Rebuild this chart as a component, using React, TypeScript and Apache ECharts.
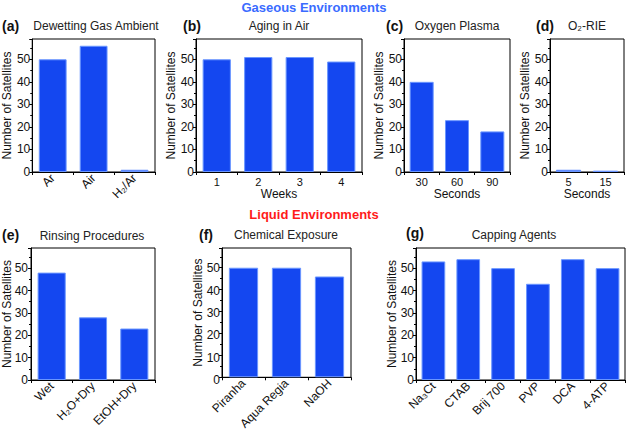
import React, { useEffect, useRef } from "react";
import * as echarts from "echarts";

const aCats = ["Ar", "Air", "H₂/Ar"];
const aVals = [50, 56, 1];
const bCats = ["1", "2", "3", "4"];
const bVals = [50, 51, 51, 49];
const cCats = ["30", "60", "90"];
const cVals = [40, 23, 18];
const dCats = ["5", "15"];
const dVals = [1, 0.6];
const eCats = ["Wet", "H₂O+Dry", "EtOH+Dry"];
const eVals = [48, 28, 23];
const fCats = ["Piranha", "Aqua Regia", "NaOH"];
const fVals = [50, 50, 46];
const gCats = ["Na₃Ct", "CTAB", "Brij 700", "PVP", "DCA", "4-ATP"];
const gVals = [53, 54, 50, 43, 54, 50];
const yMin = 0;
const yMax = 59;
const yInterval = 10;

const FONT = "Liberation Sans, Arial, sans-serif";

const panels = [
  { cats: aCats, vals: aVals, grid: { left: 30, top: 39, width: 125, height: 133 }, rotate: 45, xName: "", split: false },
  { cats: bCats, vals: bVals, grid: { left: 196, top: 39, width: 166, height: 133 }, rotate: 0, xName: "Weeks", split: false },
  { cats: cCats, vals: cVals, grid: { left: 404, top: 39, width: 106, height: 133 }, rotate: 0, xName: "Seconds", split: false },
  { cats: dCats, vals: dVals, grid: { left: 550, top: 39, width: 74, height: 133 }, rotate: 0, xName: "Seconds", split: false },
  { cats: eCats, vals: eVals, grid: { left: 30, top: 248, width: 125, height: 132 }, rotate: 45, xName: "", split: true },
  { cats: fCats, vals: fVals, grid: { left: 222, top: 248, width: 129, height: 132 }, rotate: 45, xName: "", split: true },
  { cats: gCats, vals: gVals, grid: { left: 416, top: 248, width: 209, height: 132 }, rotate: 45, xName: "", split: true },
];

const headings = [
  { text: "Gaseous Environments", x: 314, y: 1, color: "#3a6bff" },
  { text: "Liquid Environments", x: 314, y: 208, color: "#ff1a1a" },
];
const letters = [
  { text: "(a)", x: 2, y: 19 },
  { text: "(b)", x: 183, y: 19 },
  { text: "(c)", x: 386, y: 19 },
  { text: "(d)", x: 536, y: 19 },
  { text: "(e)", x: 2, y: 228 },
  { text: "(f)", x: 199, y: 228 },
  { text: "(g)", x: 406, y: 226 },
];
const subtitles = [
  { text: "Dewetting Gas Ambient", x: 96, y: 20 },
  { text: "Aging in Air", x: 279, y: 20 },
  { text: "Oxygen Plasma", x: 457, y: 20 },
  { text: "O₂-RIE", x: 587, y: 20 },
  { text: "Rinsing Procedures", x: 92, y: 230 },
  { text: "Chemical Exposure", x: 286, y: 229 },
  { text: "Capping Agents", x: 514, y: 229 },
];

export default function App() {
  const ref = useRef<HTMLDivElement>(null);
  useEffect(() => {
    if (!ref.current) return;
    const chart = echarts.init(ref.current, null, { renderer: "svg" });
    const titles: any[] = [];
    headings.forEach((h) =>
      titles.push({
        text: h.text,
        left: h.x,
        top: h.y,
        textAlign: "center",
        padding: 0,
        textStyle: { color: h.color, fontSize: 13, fontWeight: "bold", fontFamily: FONT },
      })
    );
    letters.forEach((l) =>
      titles.push({
        text: l.text,
        left: l.x,
        top: l.y,
        padding: 0,
        textStyle: { color: "#111", fontSize: 14, fontWeight: "bold", fontFamily: FONT },
      })
    );
    subtitles.forEach((s) =>
      titles.push({
        text: s.text,
        left: s.x,
        top: s.y,
        textAlign: "center",
        padding: 0,
        textStyle: { color: "#222", fontSize: 12, fontWeight: "normal", fontFamily: FONT },
      })
    );

    const yLabelStyle = {
      color: "#111",
      fontSize: 12,
      fontFamily: FONT,
      margin: 2,
      showMaxLabel: false,
      showMinLabel: true,
    };

    const grids: any[] = [];
    const xAxes: any[] = [];
    const yAxes: any[] = [];
    const series: any[] = [];

    panels.forEach((p, i) => {
      grids.push({
        ...p.grid,
        show: true,
        borderColor: "#000",
        borderWidth: 1,
        backgroundColor: "transparent",
      });
      xAxes.push({
        type: "category",
        gridIndex: i,
        data: p.cats,
        name: p.xName,
        nameLocation: "middle",
        nameGap: 16,
        nameTextStyle: { color: "#111", fontSize: 12, fontFamily: FONT },
        axisLine: { lineStyle: { color: "#000", width: 1 } },
        axisTick: { show: true, inside: false, length: 3, lineStyle: { color: "#000" } },
        axisLabel: {
          color: "#111",
          fontSize: p.rotate ? 12 : 11,
          fontFamily: FONT,
          rotate: p.rotate,
          margin: 4,
          interval: 0,
        },
      });
      yAxes.push({
        type: "value",
        gridIndex: i,
        min: yMin,
        max: yMax,
        interval: yInterval,
        name: "Number of Satellites",
        nameLocation: "middle",
        nameGap: 18,
        nameTextStyle: { color: "#111", fontSize: 12, fontFamily: FONT },
        axisLine: { show: true, lineStyle: { color: "#000", width: 1 } },
        axisTick: { show: true, inside: false, length: 3, lineStyle: { color: "#000" } },
        minorTick: { show: true, splitNumber: 2, length: 2, lineStyle: { color: "#000" } },
        splitLine: { show: false },
        axisLabel: { ...yLabelStyle, show: !p.split },
      });
      series.push({
        type: "bar",
        xAxisIndex: i,
        yAxisIndex: i,
        data: p.vals,
        barCategoryGap: "32%",
        itemStyle: { color: "#1447f0", borderColor: "#6a96ff", borderWidth: 1 },
      });
    });

    // overlay grids carrying only the y tick labels (so rotated x labels cannot hide "0")
    panels.forEach((p) => {
      if (!p.split) return;
      const gi = grids.length;
      grids.push({ ...p.grid, show: false });
      xAxes.push({ type: "category", gridIndex: gi, data: p.cats, show: false });
      yAxes.push({
        type: "value",
        gridIndex: gi,
        min: yMin,
        max: yMax,
        interval: yInterval,
        axisLine: { show: false },
        axisTick: { show: false },
        splitLine: { show: false },
        axisLabel: yLabelStyle,
      });
    });

    const option: any = {
      animation: false,
      title: titles,
      grid: grids,
      xAxis: xAxes,
      yAxis: yAxes,
      series,
    };
    chart.setOption(option);
    return () => chart.dispose();
  }, []);
  return (
    <div
      ref={ref}
      style={{ position: "fixed", left: 0, top: 0, width: 628, height: 432, background: "#fff" }}
    />
  );
}
